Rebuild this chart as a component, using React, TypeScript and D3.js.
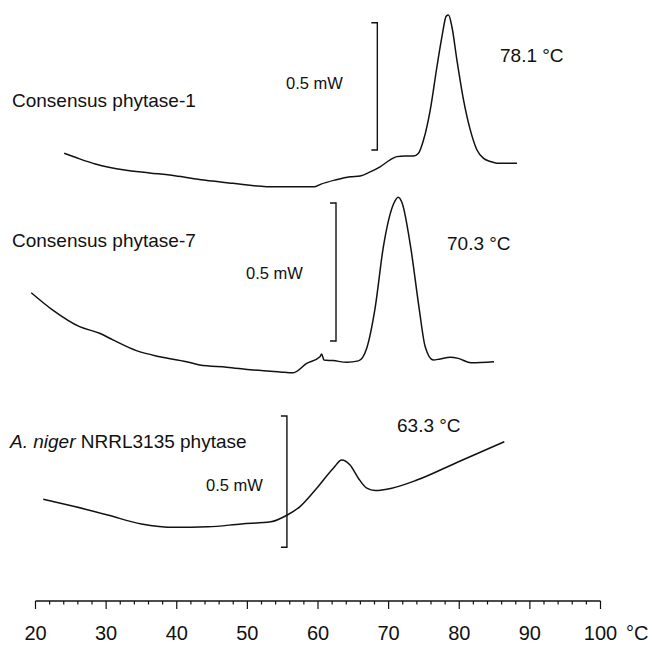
import React, { useEffect, useRef } from 'react';
import * as d3 from 'd3';

// temperature (°C), heat flow (mW, relative to the bottom of each 0.5 mW scale bar)
const phytase1 = [
  [24.06, -0.013], [26.24, -0.035], [28.48, -0.055], [32.62, -0.079], [36.17, -0.09],
  [39.72, -0.101], [43.83, -0.118], [47.94, -0.131], [52.77, -0.144], [59.52, -0.144],
  [60.43, -0.134], [62.41, -0.118], [64.54, -0.105], [65.96, -0.102], [67.38, -0.086],
  [68.79, -0.066], [70.21, -0.039], [71.16, -0.026], [72.34, -0.024], [73.52, -0.024],
  [74.23, -0.013], [74.94, 0.039], [75.89, 0.157], [76.84, 0.327], [77.55, 0.445],
  [78.16, 0.526], [78.48, 0.53], [78.96, 0.484], [79.67, 0.353], [80.61, 0.196],
  [81.56, 0.079], [82.51, 0.0], [83.45, -0.033], [84.4, -0.045], [85.35, -0.052],
  [88.18, -0.052],
];
const phytase7 = [
  [19.39, 0.175], [22.45, 0.112], [26.24, 0.052], [29.08, 0.028], [30.96, 0.004],
  [34.28, -0.035], [37.59, -0.057], [41.38, -0.075], [43.26, -0.087], [47.05, -0.095],
  [50.82, -0.105], [54.61, -0.112], [56.5, -0.115], [58.4, -0.081], [60.28, -0.057],
  [60.52, -0.047], [60.85, -0.069], [62.13, -0.071], [64.07, -0.077], [65.72, -0.072],
  [66.91, -0.025], [68.09, 0.12], [69.26, 0.342], [70.74, 0.499], [71.35, 0.521],
  [71.91, 0.5], [73.11, 0.342], [74.29, 0.124], [75.18, -0.021], [76.31, -0.069],
  [77.3, -0.065], [78.72, -0.059], [79.86, -0.063], [81.67, -0.079], [84.93, -0.075],
];
const nigerPhytase = [
  [21.1, 0.183], [25.53, 0.155], [30.21, 0.123], [34.99, 0.089], [39.72, 0.076],
  [44.4, 0.078], [49.18, 0.089], [53.3, 0.097], [55.65, 0.123], [57.45, 0.155],
  [59.82, 0.225], [62.17, 0.301], [63.36, 0.332], [64.54, 0.313], [65.72, 0.263],
  [66.91, 0.225], [68.09, 0.216], [70.45, 0.225], [74.0, 0.256], [79.9, 0.326],
  [86.38, 0.402],
];

const curveNames = ['Consensus phytase-1', 'Consensus phytase-7', 'A. niger NRRL3135 phytase'];
const peakLabels = ['78.1 °C', '70.3 °C', '63.3 °C'];
const scaleBarTemps = [68.4, 62.55, 55.6];
const xTicks = [20, 30, 40, 50, 60, 70, 80, 90, 100];

const W = 652;
const H = 645;
const FONT = '"Liberation Sans", Arial, sans-serif';

// pixel rows where 0 mW and 0.5 mW sit for each trace
const panels = [
  { bottom: 150, top: 22.7, name: { x: 12, y: 107 }, peak: { x: 500, y: 62 }, mw: { x: 286, y: 89 } },
  { bottom: 341, top: 203, name: { x: 12, y: 247 }, peak: { x: 447, y: 250 }, mw: { x: 246, y: 279 } },
  { bottom: 547.3, top: 416, name: { x: 10, y: 448 }, peak: { x: 397, y: 432 }, mw: { x: 206, y: 491 } },
];

export default function App() {
  const ref = useRef<SVGSVGElement>(null);

  useEffect(() => {
    const svg = d3.select(ref.current);
    svg.selectAll('*').remove();

    const x = d3.scaleLinear().domain([20, 100]).range([35.5, 600.5]);
    const series = [phytase1, phytase7, nigerPhytase];

    series.forEach((data, i) => {
      const p = panels[i];
      const y = d3.scaleLinear().domain([0, 0.5]).range([p.bottom, p.top]);
      const line = d3.line<number[]>()
        .x(d => x(d[0]))
        .y(d => y(d[1]))
        .curve(d3.curveMonotoneX);

      svg.append('path')
        .datum(data)
        .attr('d', line)
        .attr('fill', 'none')
        .attr('stroke', '#111')
        .attr('stroke-width', 1.5)
        .attr('stroke-linejoin', 'round');

      // 0.5 mW scale bar
      const bx = x(scaleBarTemps[i]);
      svg.append('path')
        .attr('d', `M${bx - 6},${y(0.5)}H${bx}V${y(0)}H${bx - 6}`)
        .attr('fill', 'none')
        .attr('stroke', '#111')
        .attr('stroke-width', 1.4);

      svg.append('text')
        .attr('x', p.mw.x).attr('y', p.mw.y)
        .attr('font-size', 16.5)
        .text('0.5 mW');

      svg.append('text')
        .attr('x', p.peak.x).attr('y', p.peak.y)
        .attr('font-size', 19)
        .text(peakLabels[i]);

      const name = svg.append('text')
        .attr('x', p.name.x).attr('y', p.name.y)
        .attr('font-size', 19);
      if (i === 2) {
        name.append('tspan').attr('font-style', 'italic').text('A. niger');
        name.append('tspan').text(' NRRL3135 phytase');
      } else {
        name.text(curveNames[i]);
      }
    });

    // temperature axis
    const axisY = 601;
    const axis = svg.append('g');
    axis.append('line')
      .attr('x1', x(20)).attr('x2', x(100))
      .attr('y1', axisY).attr('y2', axisY)
      .attr('stroke', '#111').attr('stroke-width', 1.6);
    axis.selectAll('.minor')
      .data(d3.range(20, 100.1, 2))
      .enter().append('line')
      .attr('x1', d => x(d)).attr('x2', d => x(d))
      .attr('y1', axisY).attr('y2', d => axisY + (d % 10 === 0 ? 8 : 3.5))
      .attr('stroke', '#111').attr('stroke-width', 1.2);
    axis.selectAll('.lbl')
      .data(xTicks)
      .enter().append('text')
      .attr('x', d => x(d)).attr('y', 640)
      .attr('text-anchor', 'middle')
      .attr('font-size', 20)
      .text(d => d);
    axis.append('text')
      .attr('x', 626).attr('y', 640)
      .attr('font-size', 20)
      .text('°C');

    svg.selectAll('text').attr('font-family', FONT).attr('fill', '#111');
  }, []);

  return (
    <svg ref={ref} width={W} height={H}
      style={{ position: 'absolute', left: 0, top: 0, background: '#fff' }} />
  );
}
